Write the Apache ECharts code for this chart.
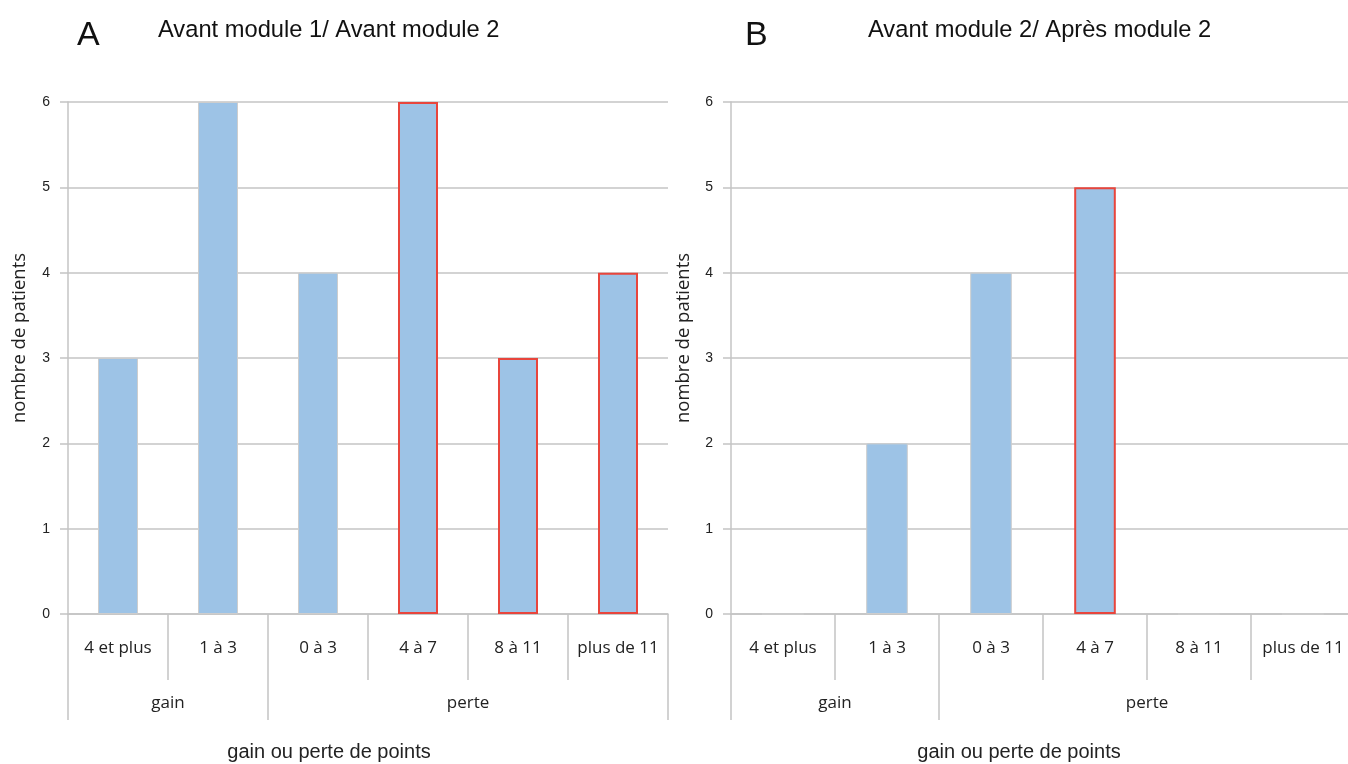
<!DOCTYPE html>
<html>
<head>
<meta charset="utf-8">
<script src="https://cdn.jsdelivr.net/npm/echarts@6/dist/echarts.min.js"></script>
<style>html,body{margin:0;padding:0;background:#fff}#c{width:1348px;height:764px}</style>
</head>
<body>
<div id="c"></div>
<script>
// ---- data ----
const categories = ['4 et plus', '1 à 3', '0 à 3', '4 à 7', '8 à 11', 'plus de 11'];
const groupNames = ['gain', 'perte'];
const groupSpans = [2, 4];
const valuesA = [3, 6, 4, 6, 3, 4];
const valuesB = [0, 2, 4, 5, 0, 0];
const outlinedA = [false, false, false, true, true, true];
const outlinedB = [false, false, false, true, false, false];
const yTicks = [0, 1, 2, 3, 4, 5, 6];
const panelLetters = ['A', 'B'];
const panelTitles = ['Avant module 1/ Avant module 2', 'Avant module 2/ Après module 2'];
const yName = 'nombre de patients';
const xName = 'gain ou perte de points';

// ---- derived ----
const groupBounds = [0];
groupSpans.forEach(s => groupBounds.push(groupBounds[groupBounds.length - 1] + s));
const groupCenters = groupSpans.map((s, i) => groupBounds[i] + s / 2);

const GRID = '#c4c4c4';
const TXT = '#222';
const CAT_FONT = '"Open Sans"';
const HEAD_FONT = '"Liberation Sans", Arial, sans-serif';

function barData(vals, outl) {
  return vals.map((v, i) => ({
    value: v,
    itemStyle: outl[i]
      ? { color: '#9dc3e6', borderColor: '#e8453c', borderWidth: 2 }
      : { color: '#9dc3e6', borderColor: '#cdcdcd', borderWidth: 1 }
  }));
}

const grids = [
  { left: 68, top: 102, width: 600, height: 512, outerBoundsMode: 'none' },
  { left: 731, top: 102, width: 624, height: 512, outerBoundsMode: 'none' }
];

const xAxes = [], yAxes = [], series = [];
[0, 1].forEach(g => {
  xAxes.push({
    type: 'category', gridIndex: g, data: categories, position: 'bottom',
    axisLine: { show: true, lineStyle: { color: GRID, width: 1.5 } },
    axisTick: { show: true, interval: 0, length: 66, lineStyle: { color: GRID, width: 1.5 } },
    axisLabel: { interval: 0, margin: 26, color: TXT, fontFamily: 'Open Sans', fontSize: 17 },
    splitLine: { show: false }
  });
  xAxes.push({
    type: 'value', gridIndex: g, min: 0, max: categories.length, position: 'bottom',
    axisLine: { show: false },
    axisTick: { show: true, customValues: groupBounds, length: 106, lineStyle: { color: GRID, width: 1.5 } },
    axisLabel: {
      show: true, customValues: groupCenters, margin: 81, color: TXT, fontFamily: 'Open Sans', fontSize: 17,
      formatter: v => { const i = groupCenters.indexOf(v); return i >= 0 ? groupNames[i] : ''; }
    },
    splitLine: { show: false }
  });
  yAxes.push({
    type: 'value', gridIndex: g, min: yTicks[0], max: yTicks[yTicks.length - 1], interval: 1,
    axisLine: { show: true, lineStyle: { color: GRID, width: 1.5 } },
    axisTick: { show: true, length: 8, lineStyle: { color: GRID, width: 1.5 } },
    axisLabel: { color: TXT, fontFamily: 'Liberation Sans', fontSize: 14, margin: 18 },
    splitLine: { show: true, lineStyle: { color: GRID, width: 1.5 } }
  });
});

series.push({ type: 'bar', xAxisIndex: 0, yAxisIndex: 0, data: barData(valuesA, outlinedA), barWidth: '40%' });
series.push({ type: 'bar', xAxisIndex: 2, yAxisIndex: 1, data: barData(valuesB, outlinedB), barWidth: '40%' });

const graphic = [];
const letterX = [77, 745], titleX = [158, 868], yNameX = [20, 684], xNameX = [329, 1019];
[0, 1].forEach(g => {
  graphic.push({ type: 'text', x: letterX[g], y: 36,
    style: { text: panelLetters[g], font: '34px ' + HEAD_FONT, fill: '#111', verticalAlign: 'middle' } });
  graphic.push({ type: 'text', x: titleX[g], y: 30,
    style: { text: panelTitles[g], font: '23.7px ' + HEAD_FONT, fill: '#111', verticalAlign: 'middle' } });
  graphic.push({ type: 'text', x: yNameX[g], y: 338, rotation: Math.PI / 2,
    style: { text: yName, font: '18.5px ' + CAT_FONT, fill: TXT, align: 'center', verticalAlign: 'middle' } });
  graphic.push({ type: 'text', x: xNameX[g], y: 752,
    style: { text: xName, font: '20px ' + HEAD_FONT, fill: TXT, align: 'center', verticalAlign: 'middle' } });
});

const chart = echarts.init(document.getElementById('c'), null, { renderer: 'canvas' });
chart.setOption({
  animation: false,
  grid: grids,
  xAxis: xAxes,
  yAxis: yAxes,
  series: series,
  graphic: graphic
});
</script>
</body>
</html>
